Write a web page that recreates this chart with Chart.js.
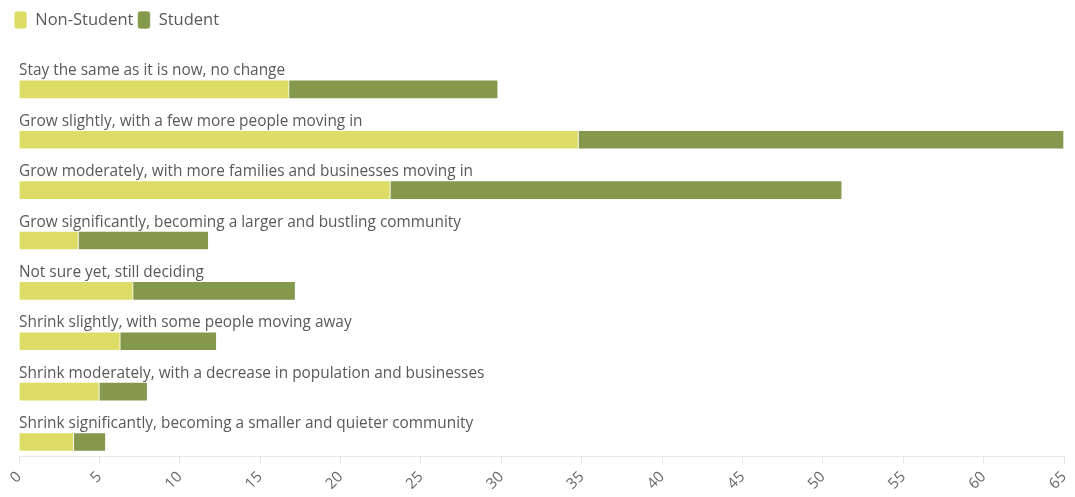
<!DOCTYPE html>
<html>
<head>
<meta charset="utf-8">
<script src="https://cdn.jsdelivr.net/npm/chart.js@4"></script>
<style>
  html, body { margin: 0; padding: 0; background: #fff; }
  #wrap { width: 1075px; height: 497px; }
</style>
</head>
<body>
<div id="wrap"><canvas id="chart"></canvas></div>
<script>
const categories = [
  "Stay the same as it is now, no change",
  "Grow slightly, with a few more people moving in",
  "Grow moderately, with more families and businesses moving in",
  "Grow significantly, becoming a larger and bustling community",
  "Not sure yet, still deciding",
  "Shrink slightly, with some people moving away",
  "Shrink moderately, with a decrease in population and businesses",
  "Shrink significantly, becoming a smaller and quieter community"
];
const nonStudent = [16.8, 34.8, 23.1, 3.7, 7.1, 6.3, 5.0, 3.4];
const student = [13.0, 30.2, 28.1, 8.1, 10.1, 6.0, 3.0, 2.0];

const textColor = "#595959";

// draws each category name just above its bar
const categoryLabels = {
  id: "categoryLabels",
  afterDatasetsDraw(chart) {
    const ctx = chart.ctx;
    const xScale = chart.scales.x;
    const yScale = chart.scales.y;
    ctx.save();
    ctx.font = "15.4px 'Open Sans'";
    ctx.fillStyle = textColor;
    ctx.textAlign = "left";
    ctx.textBaseline = "alphabetic";
    categories.forEach((name, i) => {
      const y = yScale.getPixelForValue(i) - 9.5 - 4.5;
      ctx.fillText(name, xScale.left, y);
    });
    ctx.restore();
  }
};

const ctx = document.getElementById("chart").getContext("2d");
new Chart(ctx, {
  type: "bar",
  data: {
    datasets: [
      {
        label: "Non-Student",
        data: nonStudent.map((v, i) => ({ x: v, y: i })),
        backgroundColor: "#dddc66",
        borderColor: "rgba(255,255,255,0.7)",
        borderWidth: 1,
        barThickness: 19,
        stack: "s"
      },
      {
        label: "Student",
        data: student.map((v, i) => ({ x: v, y: i })),
        backgroundColor: "#84994b",
        borderColor: "rgba(255,255,255,0.7)",
        borderWidth: 1,
        barThickness: 19,
        stack: "s"
      }
    ]
  },
  options: {
    indexAxis: "y",
    responsive: true,
    maintainAspectRatio: false,
    animation: false,
    layout: { padding: { left: 10, right: 11, top: 7, bottom: 0 } },
    plugins: {
      legend: {
        position: "top",
        align: "start",
        labels: {
          boxWidth: 13,
          boxHeight: 18,
          useBorderRadius: true,
          borderRadius: 3,
          padding: 4,
          color: textColor,
          font: { family: "'Open Sans'", size: 16.5 }
        }
      },
      tooltip: { enabled: false }
    },
    scales: {
      x: {
        type: "linear",
        stacked: true,
        min: 0,
        max: 65,
        grid: { drawOnChartArea: false, drawTicks: true, tickLength: 8, color: "#e6e6e6" },
        border: { color: "#e6e6e6" },
        ticks: {
          stepSize: 5,
          minRotation: 45,
          maxRotation: 45,
          padding: 4,
          color: "#666",
          font: { family: "'Open Sans'", size: 15 }
        },
        afterFit(scale) { scale.paddingRight = 0; }
      },
      y: {
        type: "linear",
        reverse: true,
        offset: false,
        min: -1.0,
        max: 7.28,
        ticks: { display: false },
        grid: { display: false },
        border: { display: false },
        afterFit(scale) { scale.width = 9; }
      }
    }
  },
  plugins: [categoryLabels]
});
</script>
</body>
</html>
